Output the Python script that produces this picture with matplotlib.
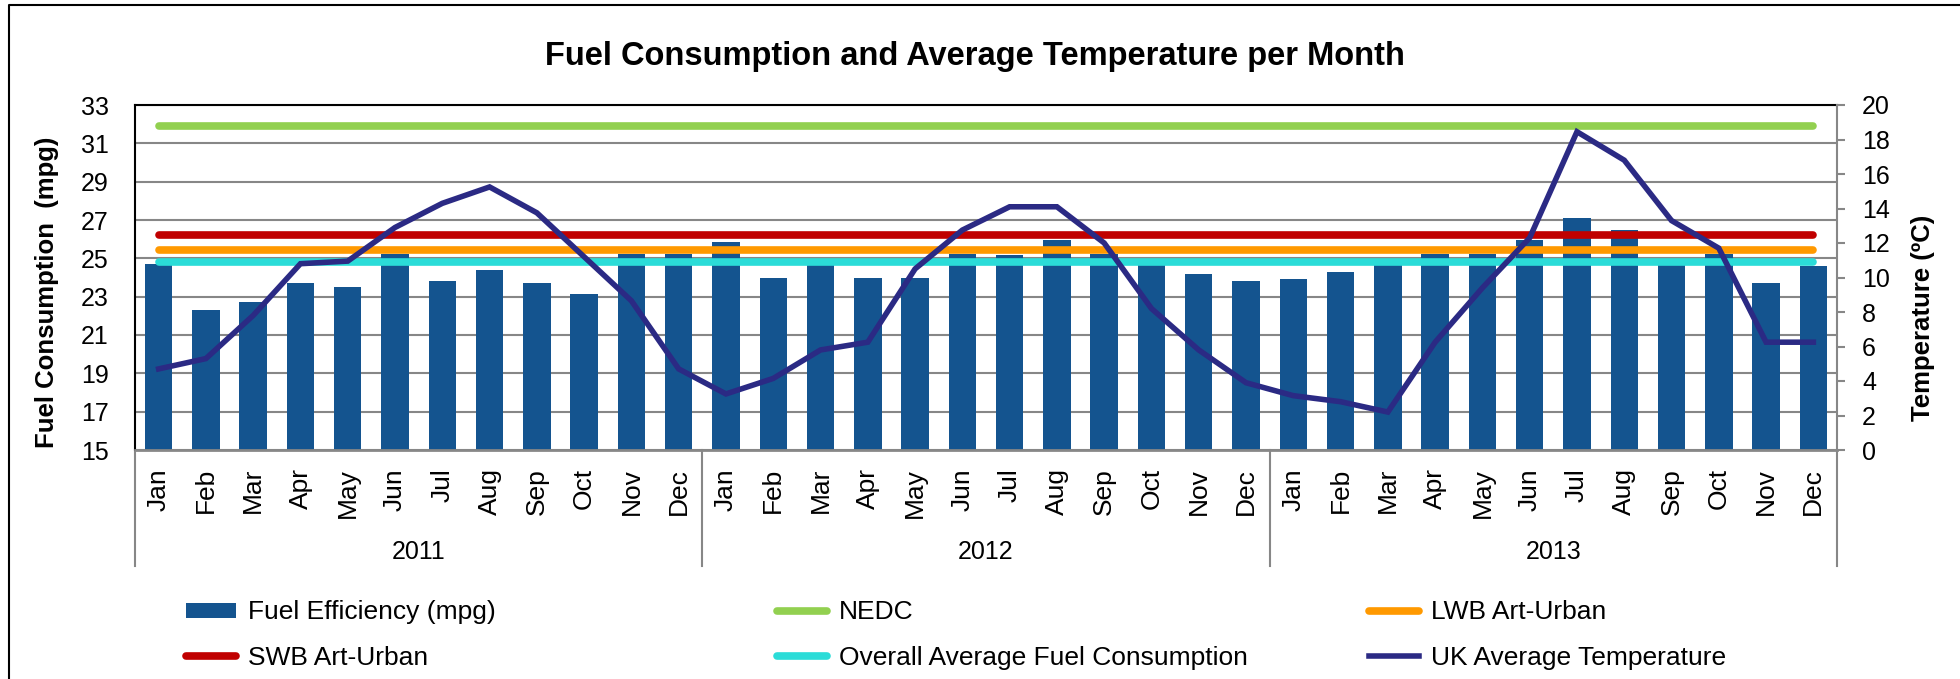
"""Consumo de combustible y temperatura media mensual (2011-2013)."""

import matplotlib
matplotlib.use('Agg')
import matplotlib.pyplot as plt
from matplotlib.lines import Line2D
from matplotlib.transforms import blended_transform_factory
import numpy as np

plt.rcParams['font.family'] = ['Liberation Sans', 'DejaVu Sans']

# Datos
months = ['Jan', 'Feb', 'Mar', 'Apr', 'May', 'Jun',
          'Jul', 'Aug', 'Sep', 'Oct', 'Nov', 'Dec']
years = ['2011', '2012', '2013']

fuel_mpg = [
    24.7, 22.3, 22.7, 23.7, 23.5, 25.25, 23.8, 24.4, 23.7, 23.15, 25.25, 25.25,
    25.85, 24.0, 24.8, 24.0, 24.0, 25.25, 25.15, 25.95, 25.25, 24.75, 24.2, 23.8,
    23.9, 24.3, 24.8, 25.25, 25.25, 25.95, 27.1, 26.5, 24.8, 25.25, 23.7, 24.6,
]
uk_temp = [
    4.7, 5.3, 7.8, 10.8, 10.95, 12.9, 14.3, 15.25, 13.75, 11.2, 8.65, 4.7,
    3.25, 4.15, 5.8, 6.25, 10.5, 12.75, 14.1, 14.1, 12.0, 8.2, 5.8, 3.9,
    3.15, 2.8, 2.2, 6.25, 9.4, 12.3, 18.45, 16.8, 13.3, 11.7, 6.25, 6.25,
]
nedc = 31.9
swb_art_urban = 26.2
lwb_art_urban = 25.45
overall_avg = 24.8

# Paleta
C_BAR = '#14548F'
C_TEMP = '#2B2A84'
C_NEDC = '#92D050'
C_SWB = '#C00000'
C_LWB = '#FF9900'
C_AVG = '#2BDCD8'
C_GRID = '#878787'

W, H = 1960, 679
fig = plt.figure(figsize=(W / 100, H / 100), dpi=100)
fig.patch.set_facecolor('white')

ax = fig.add_axes([135 / W, 1 - 450 / H, 1702 / W, 345 / H])
ax2 = ax.twinx()

n = len(fuel_mpg)
x = np.arange(n)
labels = [m for _ in years for m in months]

# ── Barras y líneas de referencia ─────────────────────────────────────────
ax.bar(x, fuel_mpg, width=0.58, color=C_BAR, zorder=2,
       label='Fuel Efficiency (mpg)')
ref_lines = [
    (nedc, C_NEDC, 'NEDC'),
    (lwb_art_urban, C_LWB, 'LWB Art-Urban'),
    (swb_art_urban, C_SWB, 'SWB Art-Urban'),
    (overall_avg, C_AVG, 'Overall Average Fuel Consumption'),
]
ref_handles = {}
for val, col, lab in ref_lines:
    h, = ax.plot(x, np.full(n, val), color=col, lw=5.5,
                 solid_capstyle='round', zorder=3, label=lab)
    ref_handles[lab] = h

h_temp, = ax2.plot(x, uk_temp, color=C_TEMP, lw=4, zorder=4,
                   solid_joinstyle='miter', label='UK Average Temperature')

ax.set_xlim(-0.5, n - 0.5)
ax.set_ylim(15, 33)
ax.set_yticks(np.arange(15, 34, 2))
ax2.set_ylim(0, 20)
ax2.set_yticks(np.arange(0, 21, 2))

ax.set_axisbelow(True)
ax.yaxis.grid(True, color=C_GRID, lw=1.5)
ax.xaxis.grid(False)

# ── Ejes ──────────────────────────────────────────────────────────────────
ax.set_xticks(x)
ax.set_xticklabels(labels, rotation=90, fontsize=19)
ax.tick_params(axis='x', length=0, pad=13)
ax.tick_params(axis='y', length=0, pad=19, labelsize=18)
ax2.tick_params(axis='y', length=6, width=1.5, color=C_GRID,
                pad=12, labelsize=18, direction='out')

for s in ['top', 'left']:
    ax.spines[s].set_color('black')
    ax.spines[s].set_linewidth(1.5)
ax.spines['bottom'].set_color(C_GRID)
ax.spines['bottom'].set_linewidth(2)
ax.spines['right'].set_visible(False)
for s in ['top', 'left', 'bottom']:
    ax2.spines[s].set_visible(False)
ax2.spines['right'].set_color(C_GRID)
ax2.spines['right'].set_linewidth(1.5)

fig.text(47 / W, 1 - 292 / H, 'Fuel Consumption  (mpg)', rotation=90,
         fontsize=18.5, fontweight='bold', ha='center', va='center')
fig.text(1923 / W, 1 - 318 / H, 'Temperature (ºC)', rotation=90,
         fontsize=18.5, fontweight='bold', ha='center', va='center')

# ── Años y separadores ────────────────────────────────────────────────────
trans = blended_transform_factory(ax.transData, fig.transFigure)
for i, yr in enumerate(years):
    ax.text(i * 12 + 5.5, 1 - 552 / H, yr, transform=trans,
            fontsize=18, ha='center', va='center')
for i in range(len(years) + 1):
    ax.plot([i * 12 - 0.5] * 2, [1 - 450 / H, 1 - 566 / H], transform=trans,
            color=C_GRID, lw=1.5, clip_on=False)

# ── Título ────────────────────────────────────────────────────────────────
fig.text(975 / W, 1 - 56 / H,
         'Fuel Consumption and Average Temperature per Month',
         fontsize=23.5, fontweight='bold', ha='center', va='center')

# ── Leyenda (3 columnas) ──────────────────────────────────────────────────
bars = ax.containers[0]
columns = [
    (186, [bars, ref_handles['SWB Art-Urban']]),
    (777, [ref_handles['NEDC'], ref_handles['Overall Average Fuel Consumption']]),
    (1369, [ref_handles['LWB Art-Urban'], h_temp]),
]
for x0, hs in columns:
    fig.legend(handles=hs, labels=[h.get_label() for h in hs],
               loc='center left', bbox_to_anchor=(x0 / W, 1 - 635 / H),
               frameon=False, fontsize=19, handlelength=1.9,
               handleheight=0.5, handletextpad=0.45, labelspacing=0.8,
               borderpad=0, borderaxespad=0)

# ── Marco exterior ────────────────────────────────────────────────────────
fig.add_artist(Line2D([9 / W, 9 / W, 1], [0, 1 - 5 / H, 1 - 5 / H],
                      color='black', lw=1.5))

fig.savefig('out.png', dpi=100, facecolor='white')
